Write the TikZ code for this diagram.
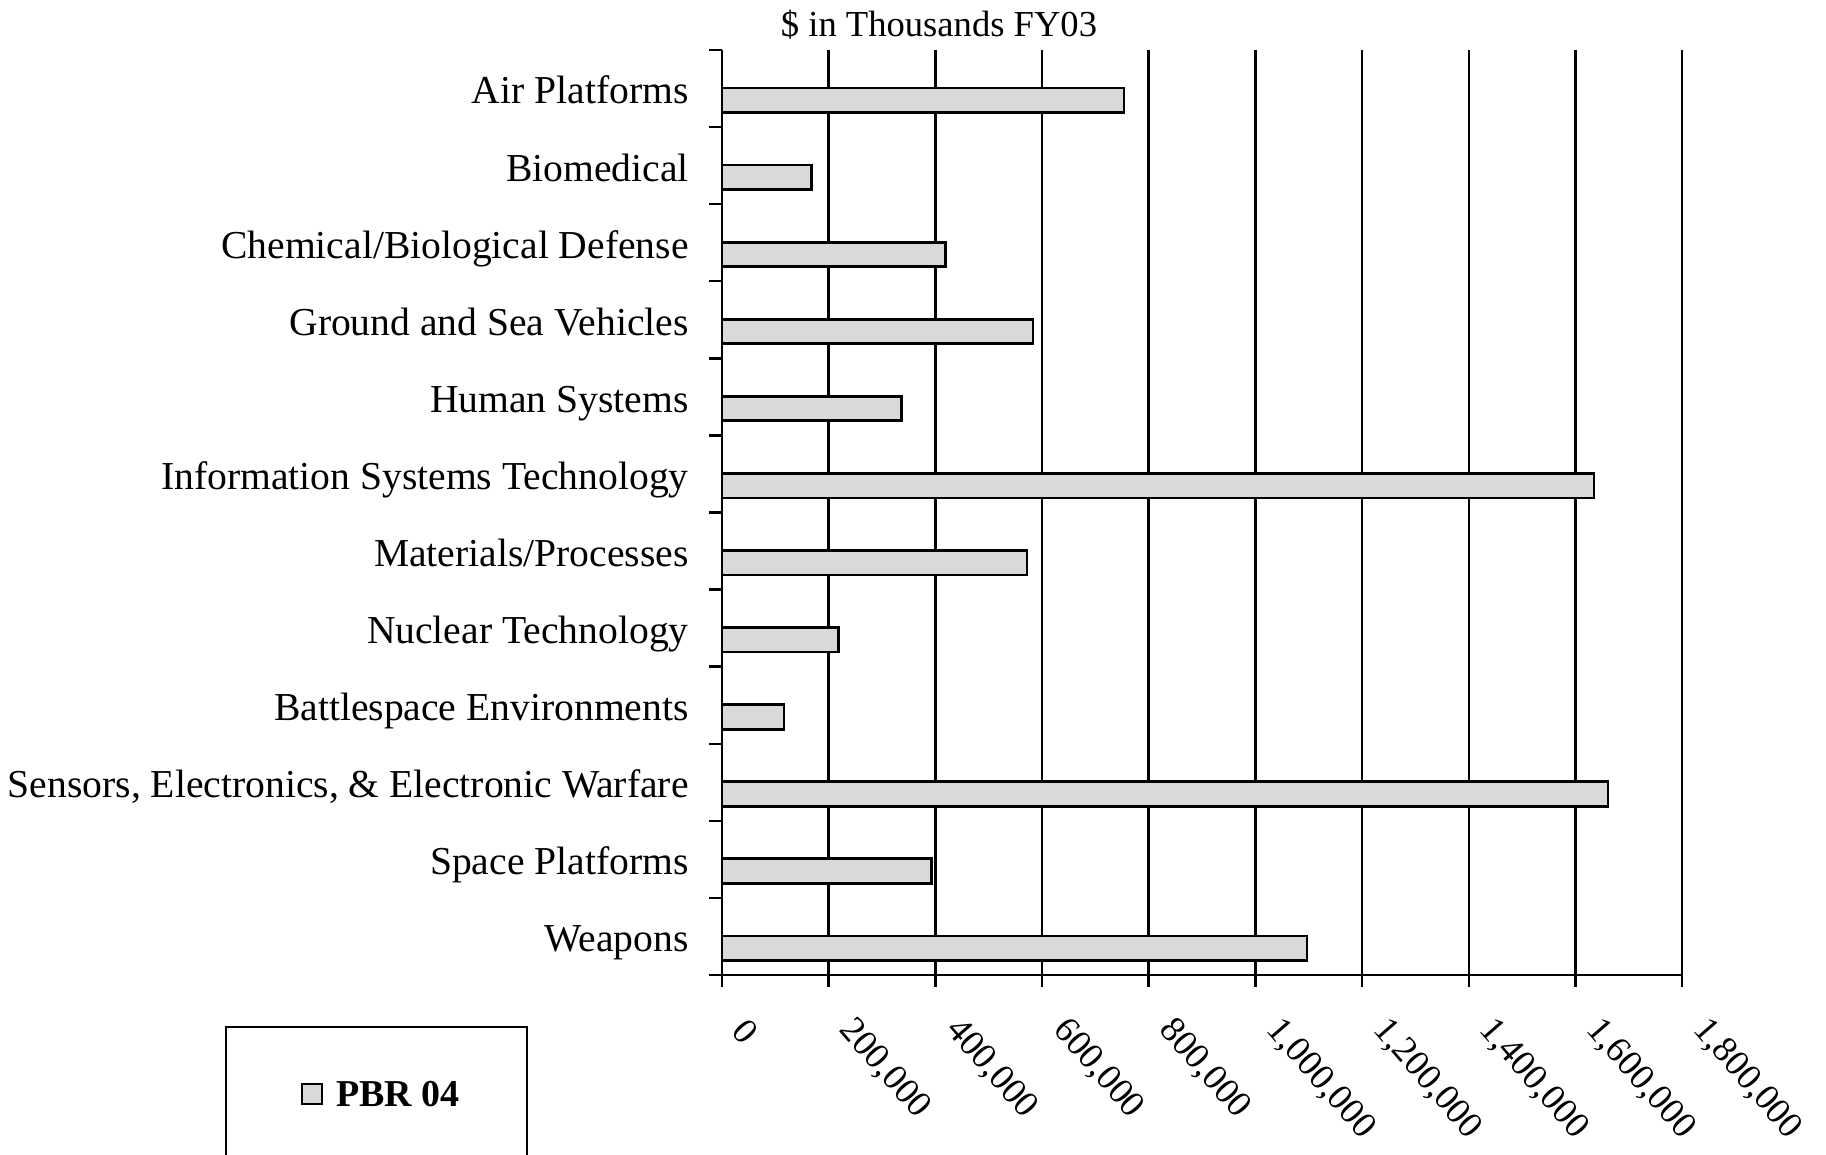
\documentclass[tikz,border=0pt]{standalone}
\usepackage{fontspec}
\setmainfont{Liberation Serif}
\definecolor{barfill}{HTML}{D9D9D9}
% one category row: index, node name, label, value (thousands)
\newcommand\catrow[4]{%
  \node[catlabel] (#2) at (689,{50+#1*77.083+54}) {#3};
  \draw[barbox] (722,{50+#1*77.083+38}) rectangle ({722+#4*0.53333},{50+#1*77.083+62.5});
}
\begin{document}
\begin{tikzpicture}[x=0.5pt,y=-0.5pt,
  grid/.style={line width=1.2pt},
  barbox/.style={draw=black,fill=barfill,line width=1.35pt},
  catlabel/.style={anchor=base east,inner sep=0pt,font=\fontsize{19.8}{22}\selectfont},
  ticklabel/.style={anchor=base west,inner sep=0pt,rotate=-49,font=\fontsize{18.2}{21}\selectfont},
]
\useasboundingbox (0,0) rectangle (1826,1155);
\clip (0,0) rectangle (1826,1155);

% title
\node[anchor=base,inner sep=0pt,font=\fontsize{18.3}{21}\selectfont] (title) at (939,37) {\$ in Thousands FY03};

% vertical gridlines with their ticks below the axis
\foreach \k in {1,...,9}
  \draw[grid] ({722+\k*106.67},50) -- ({722+\k*106.67},987);

% category ticks on the value axis
\foreach \i in {0,...,12}
  \draw[grid] (709,{50+\i*77.083}) -- (722,{50+\i*77.083});

% bars and category labels
\catrow{0}{air}{Air Platforms}{754}
\catrow{1}{bio}{Biomedical}{168}
\catrow{2}{chem}{Chemical/Biological Defense}{419}
\catrow{3}{ground}{Ground and Sea Vehicles}{583}
\catrow{4}{human}{Human Systems}{336}
\catrow{5}{info}{Information Systems Technology}{1635}
\catrow{6}{mat}{Materials/Processes}{572}
\catrow{7}{nuc}{Nuclear Technology}{218}
\catrow{8}{battle}{Battlespace Environments}{116}
\catrow{9}{sensors}{Sensors, Electronics, \& Electronic Warfare}{1661}
\catrow{10}{space}{Space Platforms}{393}
\catrow{11}{weapons}{Weapons}{1097}

% axes
\draw[grid] (722,50) -- (722,987);
\draw[grid] (709,975) -- (1682,975);

% value labels
\node[ticklabel] (t0) at (730,1032) {0};
\node[ticklabel] (t1) at ({732+1*106.67},1030) {200,000};
\node[ticklabel] (t2) at ({732+2*106.67},1030) {400,000};
\node[ticklabel] (t3) at ({732+3*106.67},1030) {600,000};
\node[ticklabel] (t4) at ({732+4*106.67},1030) {800,000};
\node[ticklabel] (t5) at ({732+5*106.67},1030) {1,000,000};
\node[ticklabel] (t6) at ({732+6*106.67},1030) {1,200,000};
\node[ticklabel] (t7) at ({732+7*106.67},1030) {1,400,000};
\node[ticklabel] (t8) at ({732+8*106.67},1030) {1,600,000};
\node[ticklabel] (t9) at ({732+9*106.67},1030) {1,800,000};

% legend
\draw[line width=1.1pt] (226,1170) |- (527,1027) -- (527,1170);
\draw[draw=black,fill=barfill,line width=1pt] (302,1084) rectangle (322,1104);
\node[anchor=base west,inner sep=0pt,font=\bfseries\fontsize{19}{22}\selectfont] (legend) at (336,1106) {PBR 04};
\end{tikzpicture}
\end{document}
